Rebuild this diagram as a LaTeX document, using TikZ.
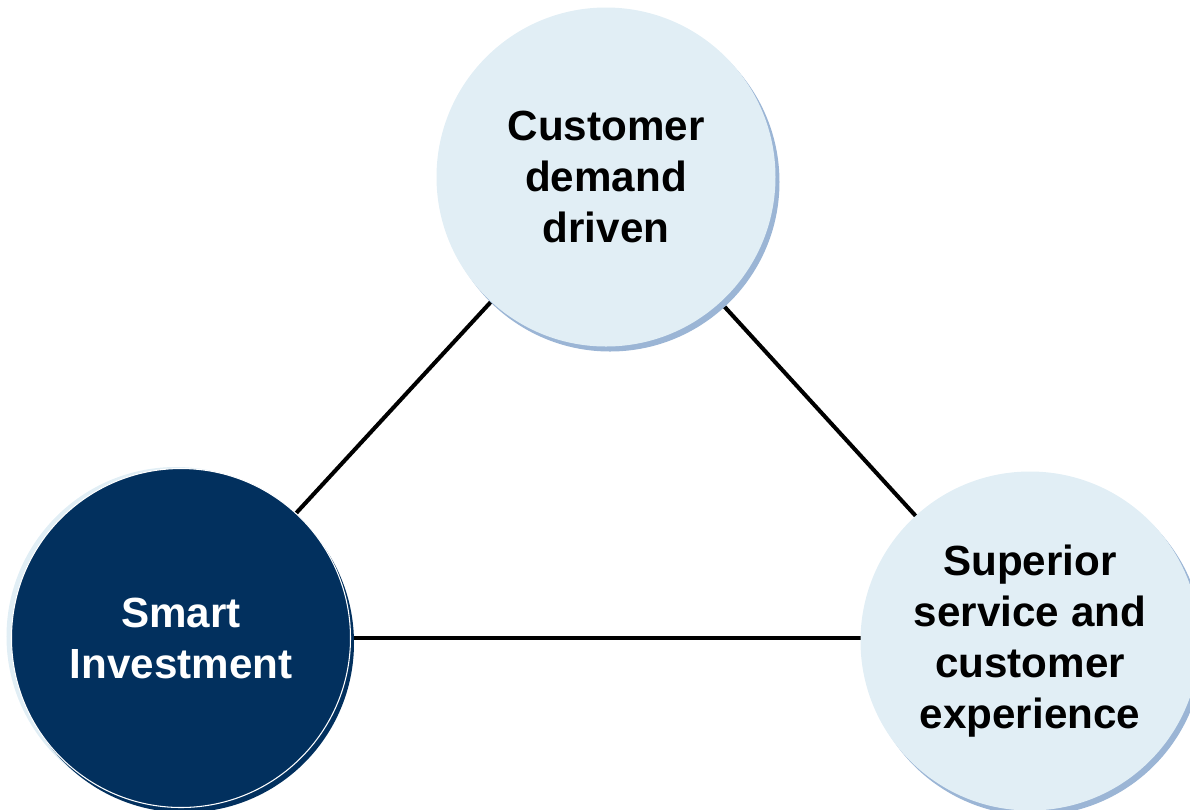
\documentclass[tikz,border=0pt]{standalone}
\usepackage{fontspec}
\setmainfont{Liberation Sans}
\usepackage[svgnames]{xcolor}
\definecolor{lightcircle}{HTML}{E1EEF5}
\definecolor{shadowblue}{HTML}{9BB5D5}
\definecolor{navy}{HTML}{02305E}
\usetikzlibrary{shadows,backgrounds}
\tikzset{
  pillarLight/.style={%
    circle,
    minimum size=6.78cm,
    inner sep=0pt,
    fill=lightcircle,
    align=center,
    font=\fontsize{24}{29}\selectfont\bfseries,
    general shadow={fill=shadowblue,shadow xshift=0.08cm,shadow yshift=-0.1cm}},
  pillarDark/.style={%
    circle,
    minimum size=6.78cm,
    inner sep=0pt,
    fill=navy,
    draw=white,
    line width=0.6pt,
    text=white,
    align=center,
    font=\fontsize{24}{29}\selectfont\bfseries,
    general shadow={fill=lightcircle,shadow xshift=-0.1cm,shadow yshift=0.03cm},
    general shadow={fill=navy,shadow xshift=0.07cm,shadow yshift=-0.1cm}},
  link/.style={%
    draw=black,
    line width=2.3pt},
  }

\begin{document}
\begin{tikzpicture}
  \useasboundingbox (0,0) rectangle (23.8,-16.18);
  \node[pillarLight] (demand) at (12.12,-3.54) {Customer\\demand\\driven};
  \node[pillarDark] (invest) at (3.62,-12.76) {Smart\\Investment};
  \node[pillarLight] (service) at (20.6,-12.82) {Superior\\service and\\customer\\experience};
  \begin{scope}[on background layer]
    \draw[link] (demand.center) -- (invest.center);
    \draw[link] (demand.center) -- (service.center);
    \draw[link] (invest.center) -- (invest.center -| service.center);
  \end{scope}
\end{tikzpicture}
\end{document}
